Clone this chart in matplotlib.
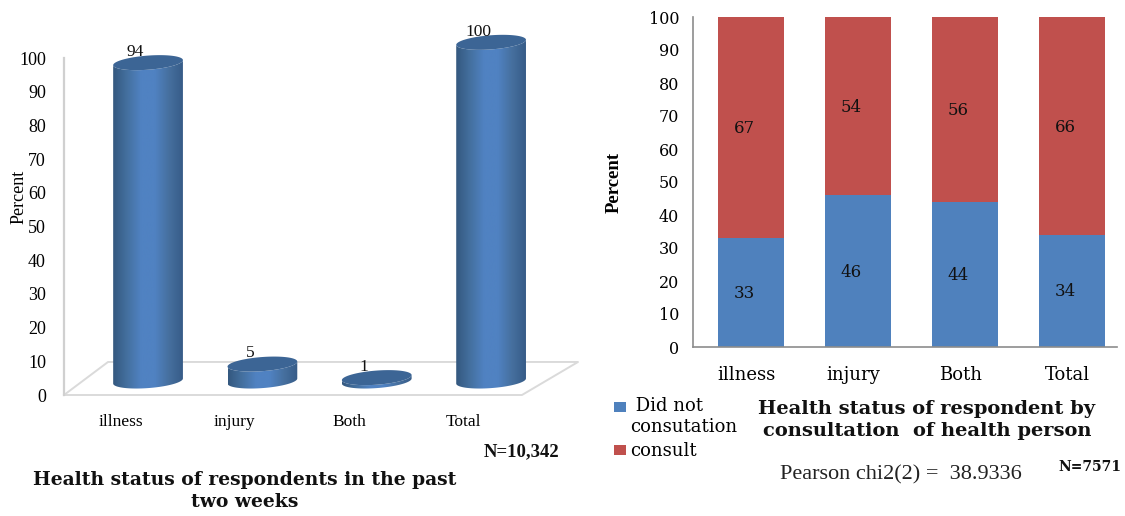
import numpy as np
import matplotlib
matplotlib.use('Agg')
import matplotlib.pyplot as plt
from matplotlib.colors import LinearSegmentedColormap
from matplotlib.patches import Polygon

W, H = 1125, 516

categories_left = ['illness', 'injury', 'Both', 'Total']
percent_left = [94, 5, 1, 100]
n_left = 'N=10,342'
title_left = 'Health status of respondents in the past\ntwo weeks'

categories_right = ['illness', 'injury', 'Both', 'Total']
no_consult = [33, 46, 44, 34]
consult = [67, 54, 56, 66]
legend_labels = [' Did not\nconsutation', 'consult']
n_right = 'N=7571'
title_right = 'Health status of respondent by\nconsultation  of health person'
chi2_text = 'Pearson chi2(2) =  38.9336'

BLUE = '#4F81BD'
RED = '#C0504D'
CAP = '#3C6595'
SERIF = 'Liberation Serif'
WIDE_SERIF = 'DejaVu Serif'

cyl_cmap = LinearSegmentedColormap.from_list(
    'cyl', ['#34587F', '#44709F', '#5082C2', '#5082C2', '#46709F', '#375C88'])


def axes_px(fig, left, top, right, bottom):
    return fig.add_axes([left / W, 1 - bottom / H, (right - left) / W, (bottom - top) / H])


def ellipse(cx, cy, a, b, tilt, t):
    return cx + a * np.cos(t), cy + b * np.sin(t) + tilt * np.cos(t)


def cylinder(ax, cx, value, width=0.305, base=4.15, scale=1.005, b=2.1, tilt=0.75):
    top = base + value * scale
    t_low = np.linspace(np.pi, 2 * np.pi, 60)
    t_all = np.linspace(0, 2 * np.pi, 120)
    # body outline: front half of the base, then back along the front of the cap
    bx, by = ellipse(cx, base, width, b, tilt, t_low)
    tx, ty = ellipse(cx, top, width, b, tilt, t_low[::-1])
    body = Polygon(np.column_stack([np.r_[bx, tx], np.r_[by, ty]]), closed=True,
                   facecolor='none', edgecolor='none', zorder=3)
    ax.add_patch(body)
    im = ax.imshow(np.linspace(0, 1, 128).reshape(1, -1), cmap=cyl_cmap, aspect='auto',
                   extent=[cx - width, cx + width, base - 4, top + 4],
                   interpolation='bilinear', zorder=3)
    im.set_clip_path(body)
    cx_pts, cy_pts = ellipse(cx, top, width, b, tilt, t_all)
    ax.add_patch(Polygon(np.column_stack([cx_pts, cy_pts]), closed=True,
                         facecolor=CAP, edgecolor='none', zorder=4))
    return top


fig = plt.figure(figsize=(W / 100, H / 100), dpi=100)

# left chart: 3D style cylinders on a slanted floor
ax1 = axes_px(fig, 64, 395 - 3.37 * 112, 578, 395)
x_pos = np.arange(len(categories_left))
floor_x = [-0.735, -0.35, 3.76, 3.27, -0.735]
floor_y = [0, 9.8, 9.8, 0, 0]
ax1.plot(floor_x, floor_y, color='#DADADA', lw=1.4, zorder=1, clip_on=False)
for x, v in zip(x_pos, percent_left):
    top = cylinder(ax1, x, v)
    ax1.text(x - 0.11, top + 3.2, str(v), ha='center', va='center', fontsize=12.5,
             family=SERIF, color='#111111', zorder=5)
ax1.set_xlim(-0.735, 3.76)
ax1.set_ylim(0, 112)
for s in ['top', 'right', 'bottom']:
    ax1.spines[s].set_visible(False)
ax1.spines['left'].set_bounds(0, 100)
ax1.spines['left'].set_color('#D0D0D0')
ax1.spines['left'].set_linewidth(1.6)
ax1.set_yticks(range(0, 101, 10))
ax1.set_yticklabels([str(v) for v in range(0, 101, 10)], family=SERIF, fontsize=13)
ax1.tick_params(axis='y', length=0, pad=13)
# category labels sit to the left of the cylinders, under the front edge of the floor
ax1.set_xticks(x_pos - 0.24)
ax1.set_xticklabels(categories_left, family=SERIF, fontsize=12.5)
ax1.tick_params(axis='x', length=0, pad=14)
ax1.set_ylabel('Percent', family=SERIF, fontsize=13)
ax1.yaxis.set_label_coords((28 - 64) / 514, 0.525)

fig.text(522 / W, 1 - 452 / H, n_left, family=SERIF, weight='bold', fontsize=13.5,
         ha='center', va='center', color='#111111')
fig.text(245 / W, 1 - 491 / H, title_left, family=WIDE_SERIF, weight='bold', fontsize=13.5,
         ha='center', va='center', color='#111111', linespacing=1.25)

# right chart: stacked percent bars
ax2 = axes_px(fig, 693, 17, 1117, 347)
x_pos2 = np.arange(len(categories_right))
b1 = ax2.bar(x_pos2, no_consult, width=0.62, color=BLUE, label=legend_labels[0])
b2 = ax2.bar(x_pos2, consult, width=0.62, bottom=no_consult, color=RED, label=legend_labels[1])
for x, a, c in zip(x_pos2, no_consult, consult):
    ax2.text(x - 0.06, a * 0.5 - 0.3, str(a), ha='center', va='center', family=WIDE_SERIF,
             fontsize=12, color='#111111')
    ax2.text(x - 0.06, a + c * 0.5 - 0.4, str(c), ha='center', va='center', family=WIDE_SERIF,
             fontsize=12, color='#111111')
ax2.set_xlim(-0.54, 3.42)
ax2.set_ylim(0, 100)
ax2.spines['top'].set_visible(False)
ax2.spines['right'].set_visible(False)
ax2.spines['left'].set_color('#8C8C8C')
ax2.spines['bottom'].set_color('#8C8C8C')
ax2.spines['left'].set_linewidth(1.2)
ax2.spines['bottom'].set_linewidth(1.2)
ax2.set_yticks(range(0, 101, 10))
ax2.set_yticklabels([str(v) for v in range(0, 101, 10)], family=WIDE_SERIF, fontsize=11.5)
ax2.tick_params(axis='y', length=0, pad=10)
ax2.set_xticks(x_pos2 - 0.04)
ax2.set_xticklabels(categories_right, family=WIDE_SERIF, fontsize=13)
ax2.tick_params(axis='x', length=0, pad=14)
ax2.set_ylabel('Percent', family=SERIF, weight='bold', fontsize=13.5)
ax2.yaxis.set_label_coords((623 - 693) / 424, 0.5)

leg = fig.legend(handles=[b1, b2], loc='upper left', bbox_to_anchor=(614 / W, 1 - 397 / H),
                 frameon=False, prop={'family': WIDE_SERIF, 'size': 13}, handlelength=0.65,
                 handleheight=0.5, handletextpad=0.25, labelspacing=0.37, borderpad=0,
                 borderaxespad=0)
# the swatch of the two-line entry lines up with its first line
first = leg.legend_handles[0]
first.set_y(first.get_y() + 7)

fig.text(927 / W, 1 - 420 / H, title_right, family=WIDE_SERIF, weight='bold', fontsize=14,
         ha='center', va='center', color='#111111', linespacing=1.25)
fig.text(901 / W, 1 - 475 / H, chi2_text, family=SERIF, fontsize=16, ha='center', va='center',
         color='#222222')
fig.text(1090 / W, 1 - 467 / H, n_right, family=WIDE_SERIF, weight='bold', fontsize=10,
         ha='center', va='center', color='#111111')

fig.savefig('out.png', dpi=100)
